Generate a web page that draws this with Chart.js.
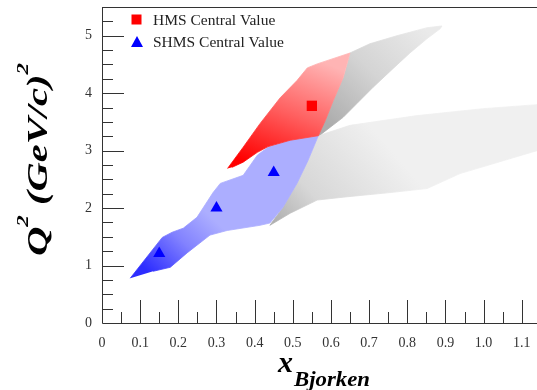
<!DOCTYPE html>
<html>
<head>
<meta charset="utf-8">
<script src="https://cdn.jsdelivr.net/npm/chart.js@4.4.0/dist/chart.umd.min.js"></script>
<style>
  html, body { margin: 0; padding: 0; background: #ffffff; }
  #wrap { width: 537px; height: 390px; }
</style>
</head>
<body>
<div id="wrap"><canvas id="c" width="537" height="390"></canvas></div>
<script>
// Kinematic coverage in (x_Bjorken, Q^2) for the two spectrometers.

// Axis ranges and tick labels
const xTickValues = [0, 0.1, 0.2, 0.3, 0.4, 0.5, 0.6, 0.7, 0.8, 0.9, 1, 1.1];
const yTickValues = [0, 1, 2, 3, 4, 5];
const xRange = [0, 1.14];
const yRange = [0, 5.5];

// HMS coverage (red) outline
const hmsBandX  = [0.329, 0.370, 0.414, 0.467, 0.511, 0.538, 0.564, 0.650, 0.632, 0.606, 0.585, 0.567, 0.493, 0.435, 0.407, 0.370, 0.341];
const hmsBandQ2 = [2.69, 3.06, 3.47, 3.92, 4.22, 4.44, 4.51, 4.70, 4.27, 3.87, 3.52, 3.26, 3.18, 3.07, 2.97, 2.80, 2.71];

// SHMS coverage (blue) outline
const shmsBandX  = [0.074, 0.158, 0.184, 0.213, 0.249, 0.291, 0.310, 0.370, 0.407, 0.435, 0.493, 0.567, 0.540, 0.511, 0.474, 0.440, 0.414, 0.328, 0.283, 0.223, 0.179, 0.134];
const shmsBandQ2 = [0.78, 1.49, 1.58, 1.65, 1.84, 2.27, 2.43, 2.57, 2.92, 3.06, 3.18, 3.26, 2.83, 2.43, 2.01, 1.74, 1.70, 1.61, 1.53, 1.22, 0.97, 0.90];

// Extended HMS coverage (upper grey)
const hmsExtX  = [0.650, 0.702, 0.773, 0.852, 0.891, 0.886, 0.852, 0.807, 0.763, 0.710, 0.668, 0.632, 0.577, 0.567, 0.585, 0.606, 0.632];
const hmsExtQ2 = [4.70, 4.86, 5.00, 5.14, 5.17, 5.12, 4.95, 4.70, 4.43, 4.10, 3.82, 3.58, 3.30, 3.26, 3.52, 3.87, 4.27];

// Extended SHMS coverage (lower grey)
const shmsExtX  = [0.567, 0.650, 0.826, 0.998, 1.140, 1.140, 0.938, 0.852, 0.755, 0.632, 0.564, 0.493, 0.440, 0.474, 0.511, 0.540];
const shmsExtQ2 = [3.26, 3.44, 3.61, 3.73, 3.80, 3.00, 2.60, 2.34, 2.27, 2.19, 2.14, 1.91, 1.70, 2.01, 2.43, 2.83];

// Central kinematics
const hmsCentralX  = [0.55];
const hmsCentralQ2 = [3.78];
const shmsCentralX  = [0.15, 0.30, 0.45];
const shmsCentralQ2 = [1.21, 2.00, 2.62];

function toPoints(xs, ys) {
  return xs.map((v, i) => ({ x: v, y: ys[i] }));
}

// Linear shading across a band, anchored in data coordinates
function bandFill(from, to, stops) {
  return (c) => {
    const chart = c.chart;
    if (!chart.chartArea) return stops[0][1];
    const sx = chart.scales.x, sy = chart.scales.y;
    const g = chart.ctx.createLinearGradient(
      sx.getPixelForValue(from[0]), sy.getPixelForValue(from[1]),
      sx.getPixelForValue(to[0]), sy.getPixelForValue(to[1]));
    stops.forEach(([o, col]) => g.addColorStop(o, col));
    return g;
  };
}

function band(label, xs, ys, shade, order) {
  return {
    type: 'line', label, data: toPoints(xs, ys),
    fill: 'shape', backgroundColor: shade, borderColor: shade,
    borderWidth: 0.8, pointRadius: 0, tension: 0, order
  };
}

const shmsExtShade = bandFill([0.45, 1.75], [0.72, 3.3],
  [[0, 'rgb(175,175,175)'], [0.35, 'rgb(215,215,215)'], [1, 'rgb(240,240,240)']]);
const hmsExtShade = bandFill([0.60, 3.40], [0.85, 5.1],
  [[0, 'rgb(172,172,172)'], [0.5, 'rgb(212,212,212)'], [1, 'rgb(234,234,234)']]);
const hmsShade = bandFill([0.40, 2.75], [0.52, 4.70],
  [[0, 'rgb(255,0,0)'], [0.5, 'rgb(255,95,95)'], [1, 'rgb(255,180,180)']]);
const shmsShade = bandFill([0.12, 0.90], [0.27, 1.95],
  [[0, 'rgb(45,45,255)'], [0.55, 'rgb(130,130,255)'], [1, 'rgb(172,174,255)']]);

const serif = '"Liberation Serif", "Times New Roman", serif';

// Frame, inward tick marks, legend and axis titles
const decorations = {
  id: 'decorations',
  afterDatasetsDraw(chart) {
    const { ctx, chartArea: a, scales: { x, y } } = chart;
    ctx.save();
    ctx.strokeStyle = '#333333';
    ctx.lineWidth = 1;
    ctx.beginPath();
    ctx.moveTo(a.left + 0.5, a.top + 0.5);
    ctx.lineTo(a.left + 0.5, a.bottom + 0.5);
    ctx.lineTo(a.right, a.bottom + 0.5);
    ctx.moveTo(a.left, a.top + 0.5);
    ctx.lineTo(a.right, a.top + 0.5);
    const nx = Math.floor(xRange[1] / 0.05 + 1e-6);
    for (let i = 1; i <= nx; i++) {
      const px = Math.round(x.getPixelForValue(i * 0.05)) + 0.5;
      const len = i % 2 === 0 ? 23 : 11;
      ctx.moveTo(px, a.bottom);
      ctx.lineTo(px, a.bottom - len);
    }
    const ny = Math.floor(yRange[1] / 0.25 + 1e-6);
    for (let i = 1; i <= ny; i++) {
      const py = Math.round(y.getPixelForValue(i * 0.25)) + 0.5;
      const len = i % 4 === 0 ? 22 : 11;
      ctx.moveTo(a.left, py);
      ctx.lineTo(a.left + len, py);
    }
    ctx.stroke();

    // legend
    const ds = chart.data.datasets;
    const hms = ds.find(d => d.label === 'HMS Central Value');
    const shms = ds.find(d => d.label === 'SHMS Central Value');
    ctx.fillStyle = hms.backgroundColor;
    ctx.fillRect(131.5, 14.5, 10, 10);
    ctx.fillStyle = shms.backgroundColor;
    ctx.beginPath();
    ctx.moveTo(137, 36);
    ctx.lineTo(143, 47);
    ctx.lineTo(131, 47);
    ctx.closePath();
    ctx.fill();
    ctx.fillStyle = '#222222';
    ctx.font = '15.5px ' + serif;
    ctx.textBaseline = 'alphabetic';
    ctx.textAlign = 'left';
    ctx.fillText(hms.label, 153, 25);
    ctx.fillText(shms.label, 153, 47);

    // y title: Q^2 (GeV/c)^2, rotated
    const big = 30, small = 17, raise = 19;
    const segs = [['Q', big, 0], ['2', small, raise], [' (GeV/c)', big, 0], ['2', small, raise]];
    let total = 0;
    segs.forEach(s => { ctx.font = 'italic bold ' + s[1] + 'px ' + serif; s.push(ctx.measureText(s[0]).width); total += s[3]; });
    ctx.save();
    ctx.translate(47, 256);
    ctx.rotate(-Math.PI / 2);
    ctx.scale(193 / total, 1);
    ctx.fillStyle = '#000000';
    let cx = 0;
    segs.forEach(s => {
      ctx.font = 'italic bold ' + s[1] + 'px ' + serif;
      ctx.fillText(s[0], cx, -s[2]);
      cx += s[3];
    });
    ctx.restore();

    // x title: x_Bjorken
    ctx.fillStyle = '#000000';
    ctx.font = 'italic bold 30px ' + serif;
    ctx.fillText('x', 278, 372);
    ctx.save();
    ctx.font = 'italic bold 22px ' + serif;
    const w = ctx.measureText('Bjorken').width;
    ctx.translate(294, 386);
    ctx.scale(76 / w, 1);
    ctx.fillText('Bjorken', 0, 0);
    ctx.restore();

    ctx.restore();
  }
};

// Fixed gutters for the tick labels; no extra edge padding
function fixScale(s, size) {
  if (s.isHorizontal()) s.height = size; else s.width = size;
  s.paddingTop = 0; s.paddingBottom = 0; s.paddingLeft = 0; s.paddingRight = 0;
}

new Chart(document.getElementById('c'), {
  type: 'scatter',
  data: {
    datasets: [
      band('Extended SHMS coverage', shmsExtX, shmsExtQ2, shmsExtShade, 5),
      band('Extended HMS coverage', hmsExtX, hmsExtQ2, hmsExtShade, 4),
      band('HMS coverage', hmsBandX, hmsBandQ2, hmsShade, 3),
      band('SHMS coverage', shmsBandX, shmsBandQ2, shmsShade, 3),
      {
        label: 'HMS Central Value', data: toPoints(hmsCentralX, hmsCentralQ2),
        pointStyle: 'rect', pointRadius: 7.3, backgroundColor: '#ff0000',
        borderWidth: 0, order: 1
      },
      {
        label: 'SHMS Central Value', data: toPoints(shmsCentralX, shmsCentralQ2),
        pointStyle: 'triangle', pointRadius: 7, backgroundColor: '#0000ff',
        borderWidth: 0, order: 1
      }
    ]
  },
  options: {
    responsive: false,
    animation: false,
    devicePixelRatio: 1,
    layout: { autoPadding: false, padding: { top: 7, right: 0, left: 0, bottom: 0 } },
    plugins: { legend: { display: false }, tooltip: { enabled: false } },
    scales: {
      x: {
        type: 'linear', min: xRange[0], max: xRange[1],
        grid: { display: false, drawTicks: false },
        border: { display: false },
        afterBuildTicks: (s) => { s.ticks = xTickValues.map(v => ({ value: v })); },
        afterFit: (s) => fixScale(s, 67),
        ticks: {
          padding: 12, color: '#333333', maxRotation: 0, autoSkip: false,
          font: { family: serif, size: 14 }
        }
      },
      y: {
        type: 'linear', min: yRange[0], max: yRange[1],
        grid: { display: false, drawTicks: false },
        border: { display: false },
        afterBuildTicks: (s) => { s.ticks = yTickValues.map(v => ({ value: v })); },
        afterFit: (s) => fixScale(s, 102),
        ticks: {
          padding: 10, color: '#333333',
          font: { family: serif, size: 14 }
        }
      }
    }
  },
  plugins: [decorations]
});
</script>
</body>
</html>
